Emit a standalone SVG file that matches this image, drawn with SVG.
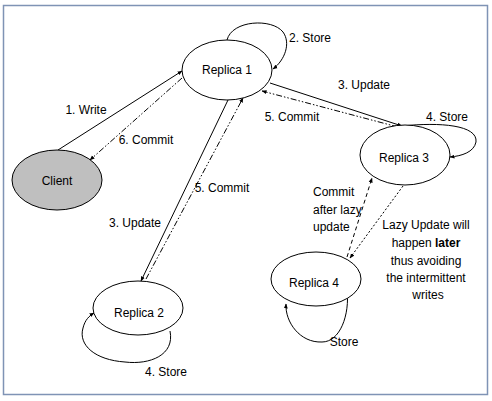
<svg xmlns="http://www.w3.org/2000/svg" width="492" height="401" viewBox="0 0 492 401">
<style>
text{font-family:"Liberation Sans",Arial,sans-serif;font-size:12px;fill:#000;text-anchor:middle}
.node{fill:#fff;stroke:#000;stroke-width:1}
.c{fill:none;stroke:#000;stroke-width:1}
.dd{stroke-dasharray:6 2 1.5 2 1.5 2}
.da{stroke-dasharray:4 3}
.dt{stroke-dasharray:2 2}
</style>
<defs>
<marker id="ah" viewBox="0 0 10 10" refX="9" refY="5" markerWidth="5" markerHeight="5" orient="auto" markerUnits="userSpaceOnUse">
<path d="M0,1 L10,5 L0,9 Z" fill="#000"/>
</marker>
</defs>
<rect x="3.5" y="5.5" width="484" height="389" fill="#fff" stroke="#7f93b5" stroke-width="1.5"/>
<g id="connectors">
<path class="c" d="M58,150 L182,71" marker-end="url(#ah)"/>
<path class="c dd" d="M182,78 L90,160" marker-end="url(#ah)"/>
<path class="c" d="M228,100 L141,281" marker-end="url(#ah)"/>
<path class="c dd" d="M146,279 L243,98" marker-end="url(#ah)"/>
<path class="c" d="M270,83 L402,126" marker-end="url(#ah)"/>
<path class="c dd" d="M398,127 L262,91" marker-end="url(#ah)"/>
<path class="c da" d="M347,257 L372,178" marker-end="url(#ah)"/>
<path class="c dt" d="M403,186 L350,258" marker-end="url(#ah)"/>
<path class="c" d="M227,40 C232,20 272,18 283,32 C291,43 285,60 273,69" marker-end="url(#ah)"/>
<path class="c" d="M402,126 C440,122 478,125 476,142 C474,152 462,156 450,157" marker-end="url(#ah)"/>
<path class="c" d="M170,331 C175,355 150,365 125,362 C95,360 78,345 83,328 C85,320 89,316 94,313" marker-end="url(#ah)"/>
<path class="c" d="M347,289 C350,315 340,342 322,342 C300,343 285,322 286,304" marker-end="url(#ah)"/>
<text x="86" y="114">1. Write</text>
<text x="146" y="144">6. Commit</text>
<text x="310" y="42">2. Store</text>
<text x="364" y="89">3. Update</text>
<text x="292" y="121">5. Commit</text>
<text x="447" y="121">4. Store</text>
<text x="222" y="192">5. Commit</text>
<text x="135" y="227">3. Update</text>
<text x="166" y="376">4. Store</text>
<text x="344" y="346">Store</text>
<text x="313" y="196" style="text-anchor:start">Commit</text>
<text x="313" y="214" style="text-anchor:start">after lazy</text>
<text x="313" y="231" style="text-anchor:start">update</text>
<text x="426" y="229">Lazy Update will</text>
<text x="426" y="247">happen <tspan font-weight="bold">later</tspan></text>
<text x="426" y="265">thus avoiding</text>
<text x="426" y="282">the intermittent</text>
<text x="428" y="299">writes</text>
</g>
<g id="client"><ellipse cx="57" cy="180" rx="45" ry="30" class="node" style="fill:#bfbfbf"/><text x="57" y="185">Client</text></g>
<g id="replica1"><ellipse cx="227" cy="70" rx="45" ry="30" class="node"/><text x="227" y="74">Replica 1</text></g>
<g id="replica2"><ellipse cx="138" cy="308" rx="45" ry="27" class="node"/><text x="139" y="317">Replica 2</text></g>
<g id="replica3"><ellipse cx="405" cy="155" rx="45" ry="30" class="node"/><text x="404" y="162">Replica 3</text></g>
<g id="replica4"><ellipse cx="316" cy="279" rx="45" ry="27" class="node"/><text x="314" y="287">Replica 4</text></g>
</svg>
